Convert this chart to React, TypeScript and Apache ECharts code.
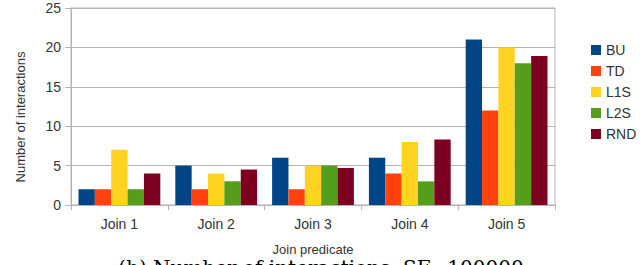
import React, { useEffect, useRef } from "react";
import * as echarts from "echarts";

const categories = ["Join 1", "Join 2", "Join 3", "Join 4", "Join 5"];
const seriesNames = ["BU", "TD", "L1S", "L2S", "RND"];
const buValues = [2, 5, 6, 6, 21];
const tdValues = [2, 2, 2, 4, 12];
const l1sValues = [7, 4, 5, 8, 20];
const l2sValues = [2, 3, 5, 3, 18];
const rndValues = [4, 4.5, 4.7, 8.3, 18.9];
const seriesColors = ["#004586", "#ff420e", "#ffd320", "#579d1c", "#7e0021"];
const yAxisTitle = "Number of interactions";
const xAxisTitle = "Join predicate";
const caption = "(b) Number of interactions, SF=100000";

export default function App() {
  const ref = useRef<HTMLDivElement>(null);
  useEffect(() => {
    if (!ref.current) return;
    const chart = echarts.init(ref.current, null, { renderer: "svg" });
    const values = [buValues, tdValues, l1sValues, l2sValues, rndValues];
    const font = "'Liberation Sans', Arial, sans-serif";
    chart.setOption({
      animation: false,
      backgroundColor: "#ffffff",
      grid: {
        left: 71,
        right: 86,
        top: 8,
        bottom: 60,
        show: true,
        borderColor: "#b3b3b3",
        borderWidth: 1,
        backgroundColor: "transparent",
      },
      legend: {
        orient: "vertical",
        left: 586,
        top: 38,
        itemWidth: 10,
        itemHeight: 10,
        itemGap: 7,
        icon: "rect",
        data: seriesNames,
        textStyle: { fontFamily: font, fontSize: 14, color: "#333333", lineHeight: 14 },
      },
      xAxis: {
        type: "category",
        data: categories,
        axisLine: { lineStyle: { color: "#b3b3b3" } },
        axisTick: { show: true, length: 5, lineStyle: { color: "#b3b3b3" } },
        axisLabel: { fontFamily: font, fontSize: 14, color: "#333333", margin: 12 },
        name: xAxisTitle,
        nameLocation: "middle",
        nameGap: 44,
        nameTextStyle: { fontFamily: font, fontSize: 13, color: "#333333", verticalAlign: "middle" },
      },
      yAxis: {
        type: "value",
        min: 0,
        max: 25,
        interval: 5,
        axisLine: { show: true, lineStyle: { color: "#b3b3b3" } },
        axisTick: { show: true, length: 6, lineStyle: { color: "#b3b3b3" } },
        axisLabel: { fontFamily: font, fontSize: 14, color: "#333333", margin: 10 },
        splitLine: { lineStyle: { color: "#b3b3b3" } },
      },
      graphic: [
        {
          type: "text",
          x: 20,
          y: 117,
          rotation: Math.PI / 2,
          style: {
            text: yAxisTitle,
            fontFamily: font,
            fontSize: 13,
            fill: "#333333",
            align: "center",
            verticalAlign: "middle",
          },
        },
        {
          type: "text",
          x: 321,
          y: 258,
          style: {
            text: caption,
            fontFamily: "'DejaVu Serif', serif",
            fontSize: 20,
            fill: "#000000",
            align: "center",
            verticalAlign: "top",
          },
        },
      ],
      series: seriesNames.map((name, i) => ({
        name,
        type: "bar",
        data: values[i],
        barGap: "0%",
        barCategoryGap: "15.5%",
        itemStyle: { color: seriesColors[i] },
      })),
    });
    return () => chart.dispose();
  }, []);
  return <div ref={ref} style={{ width: 641, height: 265, position: "absolute", left: 0, top: 0 }} />;
}
